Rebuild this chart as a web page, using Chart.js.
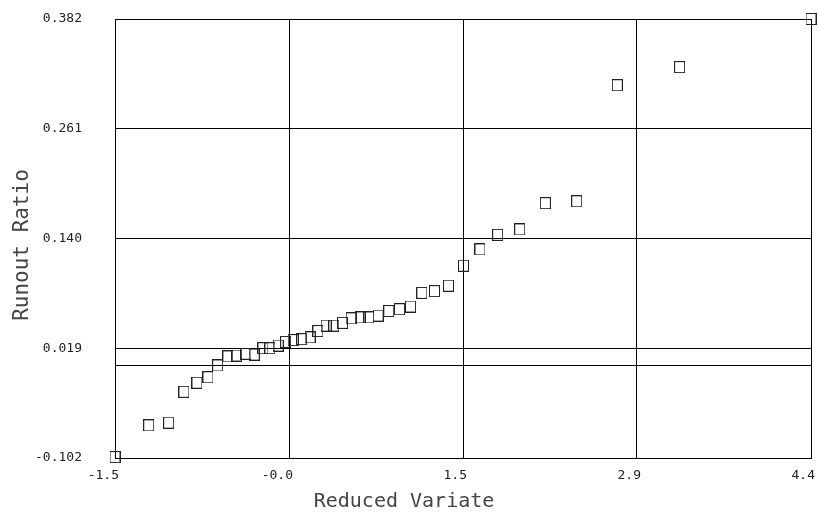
<!DOCTYPE html>
<html>
<head>
<meta charset="utf-8">
<script src="https://cdn.jsdelivr.net/npm/chart.js@4/dist/chart.umd.min.js"></script>
<style>
  html, body { margin: 0; padding: 0; background: #fff; }
  #wrap { width: 819px; height: 518px; }
</style>
</head>
<body>
<div id="wrap"><canvas id="runout-chart" width="819" height="518"></canvas></div>
<script>
// data
let reducedVariate = [-1.500, -1.214, -1.045, -0.916, -0.805, -0.712, -0.630, -0.543, -0.467, -0.390,
    -0.320, -0.246, -0.187, -0.117, -0.054, 0.010, 0.082, 0.154, 0.220, 0.290,
    0.355, 0.429, 0.502, 0.578, 0.652, 0.730, 0.821, 0.912, 1.005, 1.101,
    1.208, 1.327, 1.454, 1.594, 1.744, 1.931, 2.148, 2.414, 2.758, 3.286, 4.400];
let runoutRatio = [-0.101, -0.066, -0.063, -0.029, -0.019, -0.013, 0.000, 0.010, 0.011, 0.013,
    0.012, 0.019, 0.019, 0.022, 0.026, 0.028, 0.029, 0.031, 0.038, 0.044,
    0.044, 0.047, 0.052, 0.053, 0.053, 0.055, 0.060, 0.062, 0.065, 0.080,
    0.082, 0.088, 0.110, 0.128, 0.144, 0.150, 0.179, 0.181, 0.309, 0.329, 0.382];

let xTicks = [-1.5, -0.025, 1.45, 2.925, 4.4];
let xTickLabels = ["-1.5", "-0.0", "1.5", "2.9", "4.4"];
let yTicks = [-0.102, 0, 0.019, 0.140, 0.261, 0.382];
let yTickLabels = ["-0.102", "", "0.019", "0.140", "0.261", "0.382"];

// hollow square marker
let marker = document.createElement("canvas");
marker.width = 11;
marker.height = 12;
let mctx = marker.getContext("2d");
mctx.strokeStyle = "#222";
mctx.lineWidth = 1;
mctx.strokeRect(0.5, 0.5, 10, 11);

let points = [];
for (let i = 0; i < reducedVariate.length; i++) {
    points.push({ x: reducedVariate[i], y: runoutRatio[i] });
}

const tickFont = { family: "'DejaVu Sans Mono', monospace", size: 13 };

// titles in the reference are not centred on the plot box, shift them a bit
function shiftTitle(scale, a, b, lo, hi) {
    if (scale._shifted) return;
    scale._shifted = true;
    const orig = scale.drawTitle;
    scale.drawTitle = function () {
        const s1 = this[a], s2 = this[b];
        this[a] = lo; this[b] = hi;
        orig.call(this);
        this[a] = s1; this[b] = s2;
    };
}

// pin the plot box where the reference has it
const pinArea = {
    id: "pinArea",
    afterLayout(chart) {
        const a = chart.chartArea;
        a.left = 115; a.right = 811; a.top = 19; a.bottom = 458;
        a.width = a.right - a.left; a.height = a.bottom - a.top;
        const x = chart.scales.x, y = chart.scales.y;
        x.left = 115; x.right = 811; x.width = 696; x.top = 458; x.bottom = 518; x.height = 60;
        y.left = 0; y.right = 115; y.width = 115; y.top = 19; y.bottom = 458; y.height = 439;
        x.configure(); y.configure();
        shiftTitle(x, "left", "right", 0, 808);
        shiftTitle(y, "top", "bottom", 32, 458);
    }
};

let runoutChart = new Chart("runout-chart", {
    type: "scatter",
    data: {
        datasets: [{
            data: points,
            pointStyle: marker,
            pointRadius: 6,
            clip: false
        }]
    },
    options: {
        responsive: false,
        animation: false,
        plugins: { legend: { display: false }, tooltip: { enabled: false } },
        scales: {
            x: {
                type: "linear",
                min: -1.5,
                max: 4.4,
                afterBuildTicks: scale => { scale.ticks = xTicks.map(v => ({ value: v })); },
                grid: { color: "#000", lineWidth: 1, drawTicks: false },
                border: { color: "#000" },
                ticks: {
                    font: tickFont,
                    color: "#222",
                    padding: 10,
                    align: "end",
                    labelOffset: 4,
                    maxRotation: 0,
                    callback: (v, i) => xTickLabels[i]
                },
                title: {
                    display: true,
                    text: "Reduced Variate",
                    font: { family: "'DejaVu Sans Mono', monospace", size: 20, lineHeight: 1.2 },
                    color: "#444",
                    padding: { top: 0, bottom: 4 }
                }
            },
            y: {
                type: "linear",
                min: -0.102,
                max: 0.382,
                afterBuildTicks: scale => { scale.ticks = yTicks.map(v => ({ value: v })); },
                grid: { color: "#000", lineWidth: 1, drawTicks: false },
                border: { color: "#000" },
                ticks: {
                    font: tickFont,
                    color: "#222",
                    padding: 33,
                    callback: (v, i) => yTickLabels[i]
                },
                title: {
                    display: true,
                    text: "Runout Ratio",
                    font: { family: "'DejaVu Sans Mono', monospace", size: 21, lineHeight: 1.2 },
                    color: "#444",
                    padding: { top: 10, bottom: 0 }
                }
            }
        }
    },
    plugins: [pinArea]
});
</script>
</body>
</html>
